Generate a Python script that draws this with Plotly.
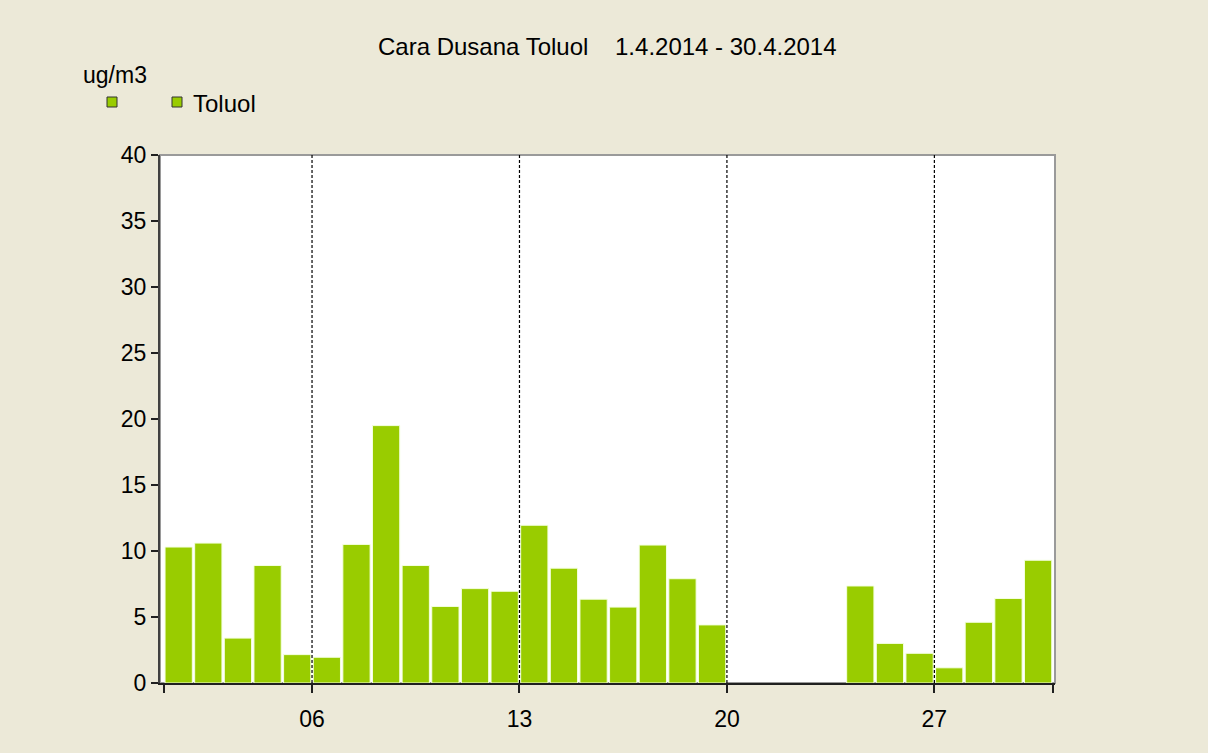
import plotly.graph_objects as go

days = list(range(1, 31))
toluol = [10.3, 10.6, 3.4, 8.9, 2.15, 1.95, 10.5, 19.5, 8.9, 5.8,
          7.15, 6.95, 11.95, 8.7, 6.35, 5.75, 10.45, 7.9, 4.4, None,
          None, None, None, 7.35, 3.0, 2.25, 1.15, 4.6, 6.4, 9.3]
tick_labels = ["06", "13", "20", "27"]
y_ticks = [0, 5, 10, 15, 20, 25, 30, 35, 40]

title_text = "Cara Dusana Toluol\u00a0\u00a0\u00a0 1.4.2014 - 30.4.2014"
unit_text = "ug/m3"
series_name = "Toluol"

GREEN = "#99CC00"
BG = "#ECE9D8"
FONT = "Liberation Sans, Arial, sans-serif"

W, H = 1208, 753
L, R, T, B = 160, 153, 155, 70
pw, ph = W - L - R, H - T - B


def px(x):
    return (x - L) / pw


def py(y):
    return (H - B - y) / ph


fig = go.Figure()
fig.add_trace(go.Bar(
    x=days, y=toluol, name=series_name,
    marker=dict(color=GREEN, line=dict(color="#F4FFE0", width=1)),
    showlegend=False,
))

tick_pos = [days[0] - 0.5] + [int(t) - 0.5 for t in tick_labels] + [days[-1] + 0.5]
tick_txt = [""] + tick_labels + [""]

shapes = [
    dict(type="rect", xref="paper", yref="paper", x0=0, x1=1, y0=0, y1=1,
         line=dict(color="#9a9a9a", width=2), layer="below"),
]
for t in tick_labels:
    shapes.append(dict(type="line", xref="x", yref="paper",
                       x0=int(t) - 0.5, x1=int(t) - 0.5, y0=0, y1=1,
                       line=dict(color="black", width=1.2, dash="3px,2px"),
                       layer="above"))
# legend squares
for cx in (112, 177):
    shapes.append(dict(type="rect", xref="paper", yref="paper",
                       x0=px(cx - 5), x1=px(cx + 5), y0=py(107), y1=py(97),
                       fillcolor=GREEN, line=dict(color="#333333", width=1)))

annotations = [
    dict(text=title_text, xref="paper", yref="paper", x=0.5, y=py(47),
         xanchor="center", yanchor="middle", showarrow=False,
         font=dict(size=24, color="black", family=FONT)),
    dict(text=unit_text, xref="paper", yref="paper", x=px(81), y=py(75),
         xanchor="left", yanchor="middle", showarrow=False,
         font=dict(size=23, color="black", family=FONT)),
    dict(text=series_name, xref="paper", yref="paper", x=px(191), y=py(103),
         xanchor="left", yanchor="middle", showarrow=False,
         font=dict(size=24, color="black", family=FONT)),
]

fig.update_layout(
    width=W, height=H,
    margin=dict(l=L, r=R, t=T, b=B),
    paper_bgcolor=BG, plot_bgcolor="white",
    bargap=0.08,
    font=dict(family=FONT, size=23, color="black"),
    shapes=shapes, annotations=annotations,
    xaxis=dict(range=[0.37, 30.57], tickmode="array", tickvals=tick_pos,
               ticktext=tick_txt, showgrid=False, zeroline=False,
               showline=True, linecolor="#202020", linewidth=2,
               ticks="outside", ticklen=8, tickwidth=1.5, tickcolor="#202020",
               ticklabelstandoff=6, tickfont=dict(size=23)),
    yaxis=dict(range=[0, 40], tickmode="array", tickvals=y_ticks,
               showgrid=False, zeroline=False,
               showline=True, linecolor="#404040", linewidth=2,
               ticks="outside", ticklen=7, tickwidth=1.5, tickcolor="#202020",
               tickfont=dict(size=23)),
)

fig.write_html("out.html",
               config={"displayModeBar": False},
               post_script="document.body.style.margin='0';"
                           "document.body.style.overflow='hidden';")
